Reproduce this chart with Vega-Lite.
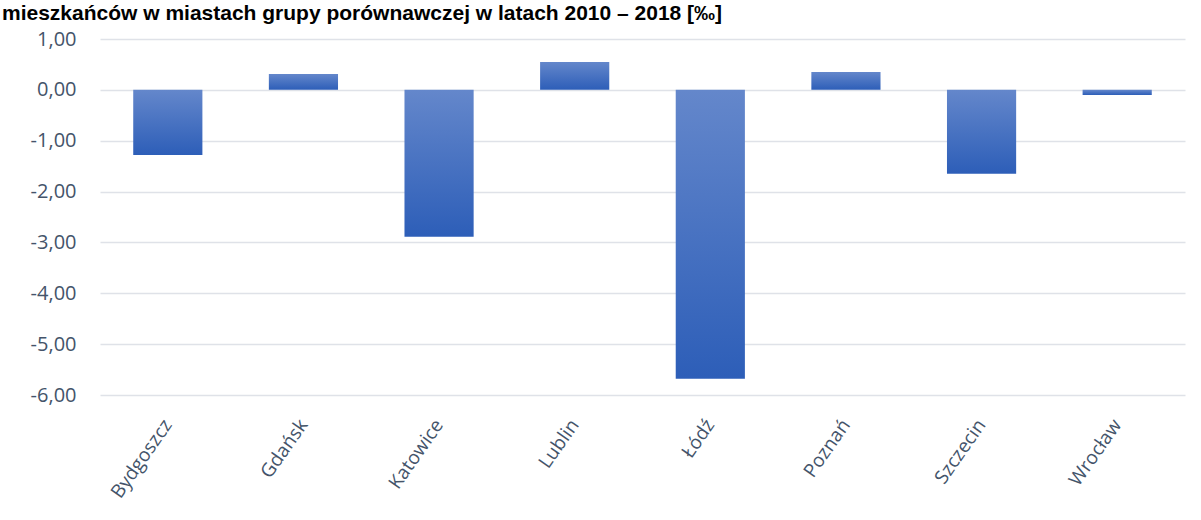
{
  "$schema": "https://vega.github.io/schema/vega-lite/v6.json",
  "autosize": {"type": "none"},
  "width": 1085,
  "height": 356,
  "padding": {"left": 100, "top": 39, "right": 16, "bottom": 125},
  "background": "white",
  "title": {
    "text": "mieszkańców w miastach grupy porównawczej w latach 2010 – 2018 [‰]",
    "anchor": "start",
    "frame": "group",
    "dx": -98,
    "dy": 20,
    "offset": 8,
    "baseline": "alphabetic",
    "font": "Liberation Sans",
    "fontSize": 21,
    "fontWeight": "bold",
    "color": "#000000"
  },
  "data": {
    "values": [
      {"miasto": "Bydgoszcz", "wartosc": -1.28},
      {"miasto": "Gdańsk", "wartosc": 0.31},
      {"miasto": "Katowice", "wartosc": -2.89},
      {"miasto": "Lublin", "wartosc": 0.55},
      {"miasto": "Łódź", "wartosc": -5.68},
      {"miasto": "Poznań", "wartosc": 0.35},
      {"miasto": "Szczecin", "wartosc": -1.65},
      {"miasto": "Wrocław", "wartosc": -0.1}
    ]
  },
  "mark": {
    "type": "bar",
    "color": {
      "gradient": "linear",
      "x1": 0, "y1": 0, "x2": 0, "y2": 1,
      "stops": [
        {"offset": 0, "color": "#6487cb"},
        {"offset": 1, "color": "#2d5eb8"}
      ]
    }
  },
  "encoding": {
    "x": {
      "field": "miasto",
      "type": "nominal",
      "sort": null,
      "scale": {"paddingInner": 0.49, "paddingOuter": 0.245},
      "axis": {
        "title": null,
        "domain": false,
        "ticks": false,
        "labelAngle": -55,
        "labelAlign": "right",
        "labelBaseline": "middle",
        "labelPadding": 26,
        "labelFont": "Open Sans",
        "labelFontSize": 19,
        "labelColor": "#44546a",
        "grid": false
      }
    },
    "y": {
      "field": "wartosc",
      "type": "quantitative",
      "scale": {"domain": [-6, 1], "nice": false, "zero": false},
      "axis": {
        "title": null,
        "values": [1, 0, -1, -2, -3, -4, -5, -6],
        "format": ".2f",
        "domain": false,
        "ticks": false,
        "labelPadding": 24,
        "labelFont": "Open Sans",
        "labelFontSize": 20,
        "labelColor": "#44546a",
        "gridColor": "#dfe2e8",
        "gridWidth": 1.5
      }
    }
  },
  "config": {
    "view": {"stroke": null},
    "locale": {
      "number": {
        "decimal": ",",
        "thousands": " ",
        "grouping": [3],
        "currency": ["", " zł"],
        "minus": "-"
      }
    }
  }
}
